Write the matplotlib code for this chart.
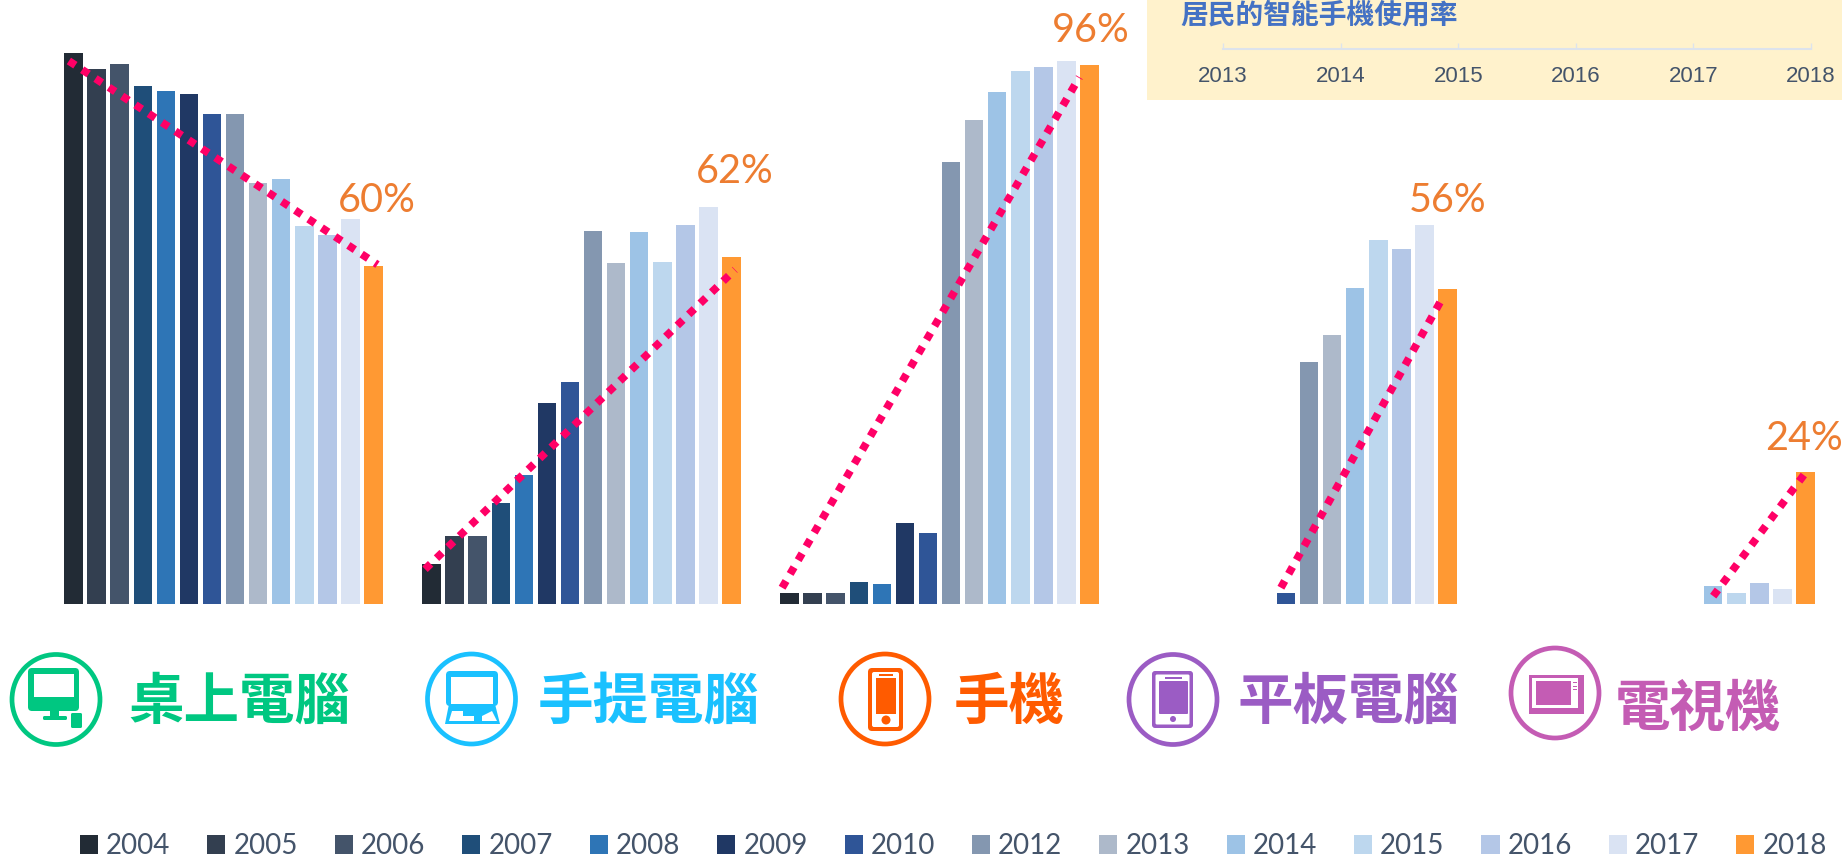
# Device usage by year, grouped bars with trend lines, icons and year legend

import numpy as np
import matplotlib
matplotlib.use('Agg')
import matplotlib.pyplot as plt
from matplotlib.patches import Ellipse, FancyBboxPatch, Rectangle, Polygon

WIDTH = 1842
HEIGHT = 857
CJK = ['Noto Sans CJK TC', 'DejaVu Sans']

# Data
years = ['2004', '2005', '2006', '2007', '2008', '2009', '2010', '2012', '2013', '2014', '2015', '2016', '2017', '2018']
year_colors = ['#222B35', '#333F50', '#44546A', '#1F4E79', '#2E75B6', '#203864', '#2F5597',
               '#8497B0', '#ADB9CA', '#9DC3E6', '#BDD7EE', '#B4C7E7', '#DAE3F3', '#FF9933']
nan = float('nan')
desktop = [98.3, 95.3, 96.3, 92.3, 91.5, 90.9, 87.4, 87.3, 75.0, 75.8, 67.3, 65.8, 68.6, 60.3]
laptop = [7.1, 12.1, 12.1, 18.0, 23.0, 35.9, 39.5, 66.4, 60.7, 66.3, 61.0, 67.5, 70.7, 61.8]
phone = [2.0, 2.0, 2.0, 4.0, 3.5, 14.5, 12.7, 78.7, 86.2, 91.2, 95.0, 95.8, 96.8, 96.1]
tablet = [nan, nan, nan, nan, nan, nan, 2.0, 43.2, 48.0, 56.4, 64.9, 63.2, 67.5, 56.1]
tv = [nan, nan, nan, nan, nan, nan, nan, nan, nan, 3.2, 1.9, 3.7, 2.75, 23.6]
groups = [desktop, laptop, phone, tablet, tv]

categories = ['桌上電腦', '手提電腦', '手機', '平板電腦', '電視機']
category_colors = ['#00C781', '#1AC1FF', '#FF5B00', '#9B5CC4', '#C45CB4']
pct_labels = ['60%', '62%', '96%', '56%', '24%']

# trend lines: start and end (bar slot inside the group, value)
trend_x0 = [-0.2, -0.28, -0.32, 5.78, 9.0]
trend_x1 = [13.17, 13.15, 12.56, 12.8, 13.0]
trend_y0 = [96.8, 6.2, 2.9, 2.9, 1.4]
trend_y1 = [60.5, 59.6, 93.9, 54.7, 23.4]

inset_years = [2013, 2014, 2015, 2016, 2017, 2018]

# Layout in pixels
BASE_Y = 604
PX_PER_PCT = 5.61
FIRST_BAR = 73.5
SLOT = 23.08
GROUP = 358 / SLOT

pct_pos = [(376.5, 200), (734.5, 171.5), (1090.5, 30), (1447.5, 200), (1803.5, 438)]
cat_pos = [(239.5, 703), (649, 703), (1009, 703), (1348, 703), (1698, 710)]

fig = plt.figure(figsize=(WIDTH / 100, HEIGHT / 100), dpi=100, facecolor='white')

# Main bars
ax = fig.add_axes([0, 1 - BASE_Y / HEIGHT, 1, BASE_Y / HEIGHT])
ax.set_xlim(-FIRST_BAR / SLOT, (WIDTH - FIRST_BAR) / SLOT)
ax.set_ylim(0, BASE_Y / PX_PER_PCT)
ax.axis('off')

handles = []
for i, year in enumerate(years):
    xs = [g * GROUP + i for g in range(len(groups))]
    heights = [group[i] for group in groups]
    bars = ax.bar(xs, heights, width=0.8, color=year_colors[i], label=year)
    handles.append(bars)

for g in range(len(groups)):
    ax.plot([g * GROUP + trend_x0[g], g * GROUP + trend_x1[g]], [trend_y0[g], trend_y1[g]],
            color='#FF0066', linewidth=5.6, linestyle=(0, (1, 1.05)), dash_capstyle='butt', zorder=5)

# Overlay in pixel coordinates for labels and icons
ov = fig.add_axes([0, 0, 1, 1], facecolor='none')
ov.set_xlim(0, WIDTH)
ov.set_ylim(HEIGHT, 0)
ov.axis('off')

for label, (x, y) in zip(pct_labels, pct_pos):
    ov.text(x, y, label, color='#ED7D31', fontsize=28.5, family='Lato', ha='center', va='center')

for name, color, (x, y) in zip(categories, category_colors, cat_pos):
    ov.text(x, y, name, color=color, fontsize=40, family=CJK, weight='bold', ha='center', va='center')


def ring(cx, cy, color):
    ov.add_patch(Ellipse((cx, cy), 88, 90, fill=False, edgecolor=color, linewidth=3.4))


def box(x0, y0, x1, y1, color, radius=0.0):
    if radius:
        ov.add_patch(FancyBboxPatch((x0 + radius, y0 + radius), x1 - x0 - 2 * radius, y1 - y0 - 2 * radius,
                                    boxstyle='round,pad=%s' % radius, facecolor=color, edgecolor='none'))
    else:
        ov.add_patch(Rectangle((x0, y0), x1 - x0, y1 - y0, facecolor=color, edgecolor='none'))


# desktop icon
c = category_colors[0]
ring(56, 699.5, c)
box(28, 668, 79, 711, c, 4)
box(34, 674, 74, 697, 'white')
box(50, 710, 59, 717, c)
box(43, 716, 67, 720, c, 1.5)
box(71, 713, 82, 728, c, 1.5)

# laptop icon
c = category_colors[1]
ring(471.5, 699, c)
box(446, 671, 498, 706, c, 4)
box(451, 677, 493, 704, 'white')
ov.add_patch(Polygon([(449, 704), (495, 704), (500, 724), (445, 724)], closed=True, facecolor=c, edgecolor='none'))
ov.add_patch(Polygon([(452, 711), (463, 711), (463, 716), (474, 716), (474, 721), (449, 721)], closed=True, facecolor='white', edgecolor='none'))
ov.add_patch(Polygon([(482, 716), (492, 711), (497, 721), (482, 721)], closed=True, facecolor='white', edgecolor='none'))

# phone icon
c = category_colors[2]
ring(885, 699, c)
box(868, 668, 903, 731, c, 4)
box(872, 672, 899, 727, 'white', 2)
box(876, 678, 896, 714, c)
box(879, 674, 893, 676, c)
ov.add_patch(Ellipse((886, 720), 9, 9, facecolor=c, edgecolor='none'))

# tablet icon
c = category_colors[3]
ring(1173, 699.5, c)
box(1152, 671, 1193, 728, c, 3)
box(1155.5, 674.5, 1189.5, 724.5, 'white', 1.5)
box(1159, 681, 1188, 714, c, 1)
box(1165, 677, 1182, 678.5, c)
ov.add_patch(Ellipse((1173, 719), 6, 6, facecolor=c, edgecolor='none'))

# tv icon
c = category_colors[4]
ring(1555, 693, c)
box(1529, 675, 1584, 714, c)
box(1532, 678, 1578, 708, 'white')
box(1536, 681, 1571, 705, c)
for ky in (682, 686, 689):
    box(1573, ky, 1577, ky + 1.2, c)

# Inset year scale
inset = fig.add_axes([1147 / WIDTH, 1 - 100 / HEIGHT, 695 / WIDTH, 100 / HEIGHT], facecolor='#FFF2CC')
inset.set_xlim(2013 - (1223 - 1147) / 117.6, 2013 + (1842 - 1223) / 117.6)
inset.set_ylim(100, 0)
inset.set_yticks([])
for side in ['top', 'left', 'right']:
    inset.spines[side].set_visible(False)
inset.spines['bottom'].set_position(('data', 49))
inset.spines['bottom'].set_bounds(2013, 2018)
inset.spines['bottom'].set_color('#DDE3EC')
inset.spines['bottom'].set_linewidth(1.5)
inset.set_xticks(inset_years)
inset.set_xticklabels([str(y) for y in inset_years], fontsize=16, family='Liberation Sans', color='#44546A')
inset.tick_params(axis='x', direction='in', length=4.5, width=1, color='#DDE3EC', pad=12)
ov.text(1180, 15, '居民的智能手機使用率', color='#4472C4', fontsize=20, family=CJK, weight='bold', ha='left', va='center', zorder=10)
ov.set_zorder(inset.get_zorder() + 1)

# Year legend
fig.legend(handles=handles, labels=years, loc='center left', bbox_to_anchor=(80 / WIDTH, 1 - 846 / HEIGHT),
           ncol=len(years), frameon=False, borderpad=0, borderaxespad=0,
           prop={'family': 'Lato', 'size': 20}, labelcolor='#44546A',
           handlelength=0.65, handleheight=0.65, handletextpad=0.29, columnspacing=1.33)

plt.savefig('out.png', dpi=100)
plt.close()
